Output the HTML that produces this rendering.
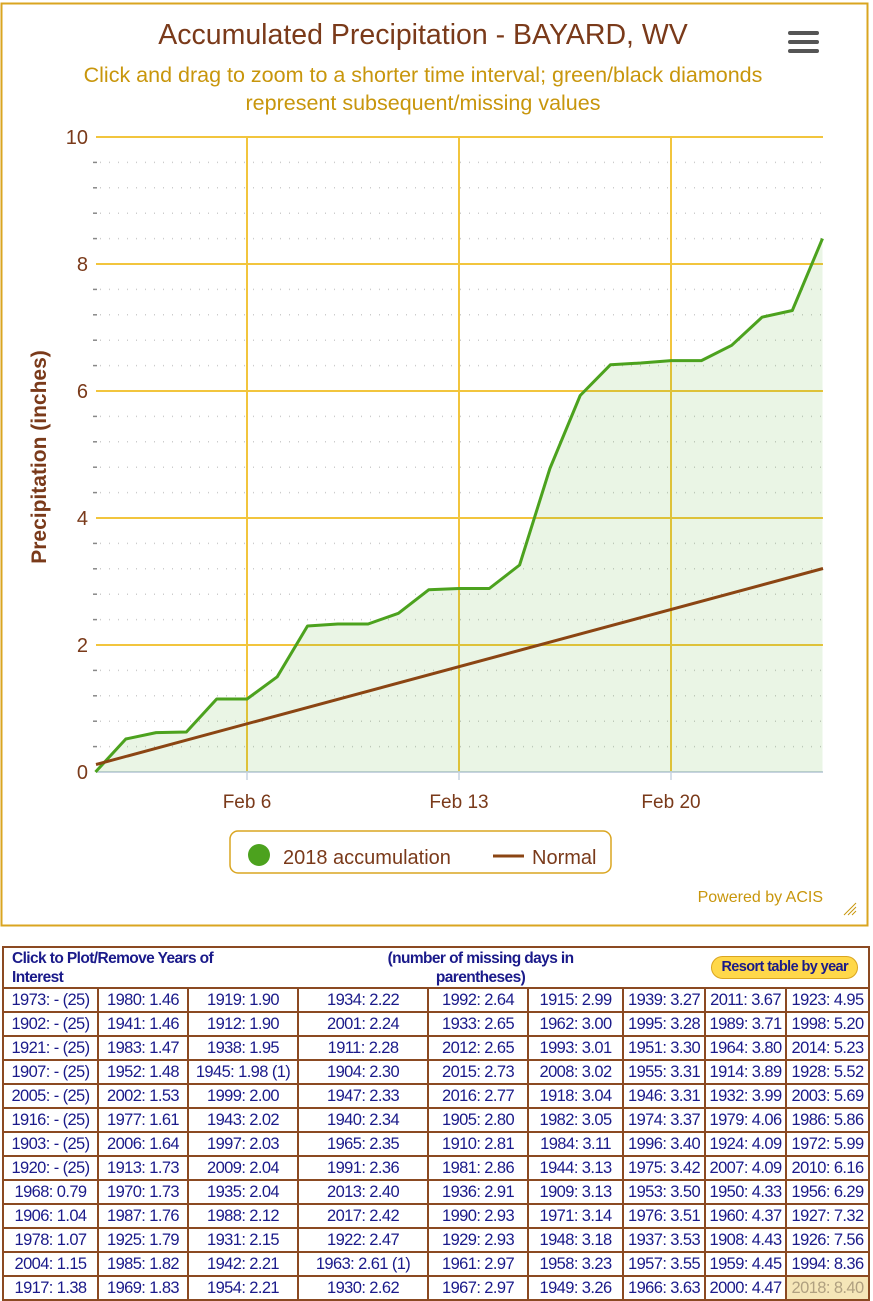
<!DOCTYPE html>
<html><head><meta charset="utf-8"><style>
body{margin:0;width:873px;height:1301px;background:#fff;position:relative;overflow:hidden;font-family:"Liberation Sans",sans-serif}
#chart{position:absolute;left:0;top:0}
table{position:absolute;left:2px;top:946px;width:866px;border-collapse:collapse;table-layout:fixed}
td{border:2px solid #8B4A22;color:#1a1a8a;font-size:16.5px;text-align:center;height:22px;padding:0;white-space:nowrap;letter-spacing:-0.6px;line-height:22px}
.hd td{border:none;font-weight:bold;font-size:15.5px;height:37px;line-height:19px;vertical-align:top;padding-top:1px}
.hd{border:2px solid #8B4A22}
</style></head><body>
<svg id="chart" width="873" height="935" viewBox="0 0 873 935">
<rect x="1.5" y="3.5" width="866" height="922" fill="#fff" stroke="#DAA520" stroke-width="2"/>
<text x="423" y="44" text-anchor="middle" font-size="28.5" fill="#7a3a1a">Accumulated Precipitation - BAYARD, WV</text>
<text x="423" y="82" text-anchor="middle" font-size="21.5" fill="#C8960C">Click and drag to zoom to a shorter time interval; green/black diamonds</text>
<text x="423" y="110" text-anchor="middle" font-size="21.5" fill="#C8960C">represent subsequent/missing values</text>
<g fill="#555"><rect x="788" y="31" width="31" height="4" rx="2"/><rect x="788" y="40" width="31" height="4" rx="2"/><rect x="788" y="49" width="31" height="4" rx="2"/></g>
<g stroke="#ccc" stroke-dasharray="1 8" stroke-width="1.5">
<line x1="100" x2="823" y1="162.4" y2="162.4"/><line x1="100" x2="823" y1="187.8" y2="187.8"/><line x1="100" x2="823" y1="213.2" y2="213.2"/><line x1="100" x2="823" y1="238.6" y2="238.6"/>
<line x1="100" x2="823" y1="289.4" y2="289.4"/><line x1="100" x2="823" y1="314.8" y2="314.8"/><line x1="100" x2="823" y1="340.2" y2="340.2"/><line x1="100" x2="823" y1="365.6" y2="365.6"/>
<line x1="100" x2="823" y1="416.4" y2="416.4"/><line x1="100" x2="823" y1="441.8" y2="441.8"/><line x1="100" x2="823" y1="467.2" y2="467.2"/><line x1="100" x2="823" y1="492.6" y2="492.6"/>
<line x1="100" x2="823" y1="543.4" y2="543.4"/><line x1="100" x2="823" y1="568.8" y2="568.8"/><line x1="100" x2="823" y1="594.2" y2="594.2"/><line x1="100" x2="823" y1="619.6" y2="619.6"/>
<line x1="100" x2="823" y1="670.4" y2="670.4"/><line x1="100" x2="823" y1="695.8" y2="695.8"/><line x1="100" x2="823" y1="721.2" y2="721.2"/><line x1="100" x2="823" y1="746.6" y2="746.6"/>
</g>
<g stroke="#888" stroke-width="1.5">
<line x1="93" x2="97" y1="162.4" y2="162.4"/><line x1="93" x2="97" y1="187.8" y2="187.8"/><line x1="93" x2="97" y1="213.2" y2="213.2"/><line x1="93" x2="97" y1="238.6" y2="238.6"/>
<line x1="93" x2="97" y1="289.4" y2="289.4"/><line x1="93" x2="97" y1="314.8" y2="314.8"/><line x1="93" x2="97" y1="340.2" y2="340.2"/><line x1="93" x2="97" y1="365.6" y2="365.6"/>
<line x1="93" x2="97" y1="416.4" y2="416.4"/><line x1="93" x2="97" y1="441.8" y2="441.8"/><line x1="93" x2="97" y1="467.2" y2="467.2"/><line x1="93" x2="97" y1="492.6" y2="492.6"/>
<line x1="93" x2="97" y1="543.4" y2="543.4"/><line x1="93" x2="97" y1="568.8" y2="568.8"/><line x1="93" x2="97" y1="594.2" y2="594.2"/><line x1="93" x2="97" y1="619.6" y2="619.6"/>
<line x1="93" x2="97" y1="670.4" y2="670.4"/><line x1="93" x2="97" y1="695.8" y2="695.8"/><line x1="93" x2="97" y1="721.2" y2="721.2"/><line x1="93" x2="97" y1="746.6" y2="746.6"/>
</g>
<g stroke="#F2C53D" stroke-width="2">
<line x1="96" x2="823" y1="137" y2="137"/><line x1="96" x2="823" y1="264" y2="264"/><line x1="96" x2="823" y1="391" y2="391"/><line x1="96" x2="823" y1="518" y2="518"/><line x1="96" x2="823" y1="645" y2="645"/>
<line x1="247" x2="247" y1="137" y2="772"/><line x1="459" x2="459" y1="137" y2="772"/><line x1="671" x2="671" y1="137" y2="772"/>
</g>
<line x1="96" x2="823" y1="772" y2="772" stroke="#C7D3E0" stroke-width="2"/>
<g stroke="#C7D3E0" stroke-width="1.5"><line x1="247" x2="247" y1="772" y2="780"/><line x1="459" x2="459" y1="772" y2="780"/><line x1="671" x2="671" y1="772" y2="780"/></g>
<g font-size="20" fill="#7a3a1a" text-anchor="end">
<text x="88" y="144">10</text><text x="88" y="271">8</text><text x="88" y="398">6</text><text x="88" y="525">4</text><text x="88" y="652">2</text><text x="88" y="779">0</text></g>
<g font-size="19" fill="#7a3a1a" text-anchor="middle"><text x="247" y="808">Feb 6</text><text x="459" y="808">Feb 13</text><text x="671" y="808">Feb 20</text></g>
<text transform="translate(46,457) rotate(-90)" text-anchor="middle" font-size="21" font-weight="bold" fill="#7a3a1a">Precipitation (inches)</text>
<polygon fill="rgba(80,170,40,0.12)" points="95.5,772 125.8,739 156.1,732.6 186.4,732 216.7,699 247,699 277.2,676.8 307.5,626 337.8,624 368.1,624 398.4,613.3 428.7,589.8 459,588.5 489.3,588.5 519.6,565 549.9,468.5 580.2,395.5 610.5,364.7 640.8,363 671.1,360.6 701.4,360.6 731.7,345.3 762,317.2 792.3,310.5 822.5,238.6 822.5,772"/>
<polyline fill="none" stroke="#4CA21E" stroke-width="3" stroke-linejoin="round" points="95.5,772 125.8,739 156.1,732.6 186.4,732 216.7,699 247,699 277.2,676.8 307.5,626 337.8,624 368.1,624 398.4,613.3 428.7,589.8 459,588.5 489.3,588.5 519.6,565 549.9,468.5 580.2,395.5 610.5,364.7 640.8,363 671.1,360.6 701.4,360.6 731.7,345.3 762,317.2 792.3,310.5 822.5,238.6"/>
<line x1="96" y1="764.5" x2="823" y2="568.5" stroke="#8B4513" stroke-width="3"/>
<rect x="230" y="831" width="381" height="42" rx="8" fill="#fff" stroke="#DAA520" stroke-width="1.5"/>
<circle cx="259" cy="855" r="11" fill="#4CA21E"/>
<text x="283" y="864" font-size="20" fill="#7a3a1a">2018 accumulation</text>
<line x1="493" x2="524" y1="856" y2="856" stroke="#8B4513" stroke-width="3"/>
<text x="532" y="864" font-size="20" fill="#7a3a1a">Normal</text>
<text x="823" y="902" text-anchor="end" font-size="16" fill="#C8960C">Powered by ACIS</text>
<g stroke="#C8960C" stroke-width="1"><line x1="844" y1="915" x2="856" y2="903"/><line x1="848" y1="915" x2="856" y2="907"/><line x1="852" y1="915" x2="856" y2="911"/></g>
</svg>
<table>
<colgroup><col style="width:95px"><col style="width:90px"><col style="width:110px"><col style="width:130px"><col style="width:100px"><col style="width:95px"><col style="width:82px"><col style="width:81px"><col style="width:83px"></colgroup>
<tr class="hd"><td colspan="3" style="text-align:left;padding-left:8px">Click to Plot/Remove Years of<br>Interest</td><td colspan="3" style="text-align:center;padding-left:40px">(number of missing days in<br>parentheses)</td><td colspan="3" style="text-align:right;padding-right:10px;vertical-align:middle;padding-top:0"><span style="display:inline-block;background:#FFD84A;border:1.5px solid #DAA520;border-radius:12px;padding:0 9px;font-size:14.5px;line-height:21px;color:#1a1a8a">Resort table by year</span></td></tr>
<tr><td>1973: - (25)</td><td>1980: 1.46</td><td>1919: 1.90</td><td>1934: 2.22</td><td>1992: 2.64</td><td>1915: 2.99</td><td>1939: 3.27</td><td>2011: 3.67</td><td>1923: 4.95</td></tr>
<tr><td>1902: - (25)</td><td>1941: 1.46</td><td>1912: 1.90</td><td>2001: 2.24</td><td>1933: 2.65</td><td>1962: 3.00</td><td>1995: 3.28</td><td>1989: 3.71</td><td>1998: 5.20</td></tr>
<tr><td>1921: - (25)</td><td>1983: 1.47</td><td>1938: 1.95</td><td>1911: 2.28</td><td>2012: 2.65</td><td>1993: 3.01</td><td>1951: 3.30</td><td>1964: 3.80</td><td>2014: 5.23</td></tr>
<tr><td>1907: - (25)</td><td>1952: 1.48</td><td>1945: 1.98 (1)</td><td>1904: 2.30</td><td>2015: 2.73</td><td>2008: 3.02</td><td>1955: 3.31</td><td>1914: 3.89</td><td>1928: 5.52</td></tr>
<tr><td>2005: - (25)</td><td>2002: 1.53</td><td>1999: 2.00</td><td>1947: 2.33</td><td>2016: 2.77</td><td>1918: 3.04</td><td>1946: 3.31</td><td>1932: 3.99</td><td>2003: 5.69</td></tr>
<tr><td>1916: - (25)</td><td>1977: 1.61</td><td>1943: 2.02</td><td>1940: 2.34</td><td>1905: 2.80</td><td>1982: 3.05</td><td>1974: 3.37</td><td>1979: 4.06</td><td>1986: 5.86</td></tr>
<tr><td>1903: - (25)</td><td>2006: 1.64</td><td>1997: 2.03</td><td>1965: 2.35</td><td>1910: 2.81</td><td>1984: 3.11</td><td>1996: 3.40</td><td>1924: 4.09</td><td>1972: 5.99</td></tr>
<tr><td>1920: - (25)</td><td>1913: 1.73</td><td>2009: 2.04</td><td>1991: 2.36</td><td>1981: 2.86</td><td>1944: 3.13</td><td>1975: 3.42</td><td>2007: 4.09</td><td>2010: 6.16</td></tr>
<tr><td>1968: 0.79</td><td>1970: 1.73</td><td>1935: 2.04</td><td>2013: 2.40</td><td>1936: 2.91</td><td>1909: 3.13</td><td>1953: 3.50</td><td>1950: 4.33</td><td>1956: 6.29</td></tr>
<tr><td>1906: 1.04</td><td>1987: 1.76</td><td>1988: 2.12</td><td>2017: 2.42</td><td>1990: 2.93</td><td>1971: 3.14</td><td>1976: 3.51</td><td>1960: 4.37</td><td>1927: 7.32</td></tr>
<tr><td>1978: 1.07</td><td>1925: 1.79</td><td>1931: 2.15</td><td>1922: 2.47</td><td>1929: 2.93</td><td>1948: 3.18</td><td>1937: 3.53</td><td>1908: 4.43</td><td>1926: 7.56</td></tr>
<tr><td>2004: 1.15</td><td>1985: 1.82</td><td>1942: 2.21</td><td>1963: 2.61 (1)</td><td>1961: 2.97</td><td>1958: 3.23</td><td>1957: 3.55</td><td>1959: 4.45</td><td>1994: 8.36</td></tr>
<tr><td>1917: 1.38</td><td>1969: 1.83</td><td>1954: 2.21</td><td>1930: 2.62</td><td>1967: 2.97</td><td>1949: 3.26</td><td>1966: 3.63</td><td>2000: 4.47</td><td style="background:#F5E6B8;color:#b0a080">2018: 8.40</td></tr>
</table>
</body></html>
